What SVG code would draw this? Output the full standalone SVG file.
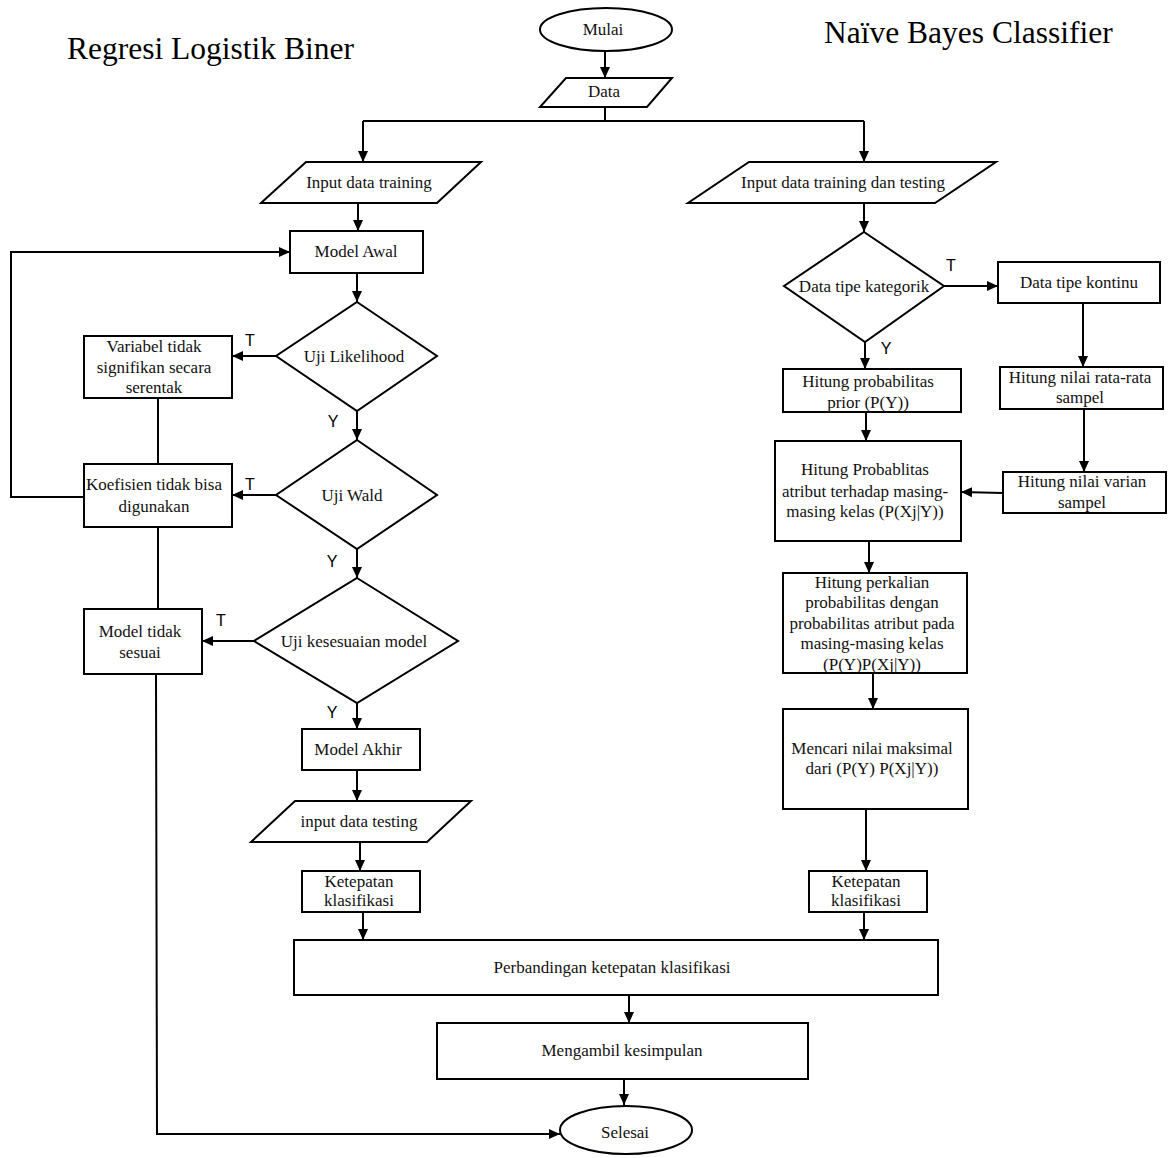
<svg xmlns="http://www.w3.org/2000/svg" width="1169" height="1158" viewBox="0 0 1169 1158">
<style>
.s{fill:#fff;stroke:#000;stroke-width:2}
.t{font-family:"Liberation Serif","Times New Roman",serif;font-size:17px;fill:#111;text-anchor:middle}
.h{font-family:"Liberation Serif","Times New Roman",serif;font-size:31.5px;fill:#000}
.l{font-family:"Liberation Sans",Arial,sans-serif;font-size:16px;fill:#000;text-anchor:middle}
.c{fill:none;stroke:#000;stroke-width:2}
</style>
<defs>
<marker id="ah" markerUnits="userSpaceOnUse" markerWidth="12" markerHeight="10" refX="11" refY="5" orient="auto">
<path d="M0,0 L11,5 L0,10 z" fill="#000"/>
</marker>
</defs>
<rect width="1169" height="1158" fill="#fff"/>
<text class="h" x="67" y="59">Regresi Logistik Biner</text>
<text class="h" x="824" y="43">Naïve Bayes Classifier</text>

<g id="connectors">
<line class="c" x1="605" y1="51" x2="605" y2="78" marker-end="url(#ah)"/>
<polyline class="c" points="605,107 605,121"/>
<polyline class="c" points="363,121 864,121"/>
<line class="c" x1="363" y1="121" x2="363" y2="162" marker-end="url(#ah)"/>
<line class="c" x1="864" y1="121" x2="864" y2="162" marker-end="url(#ah)"/>
<line class="c" x1="358" y1="203" x2="358" y2="231" marker-end="url(#ah)"/>
<line class="c" x1="864" y1="203" x2="864" y2="232" marker-end="url(#ah)"/>
<line class="c" x1="944" y1="286" x2="998" y2="286" marker-end="url(#ah)"/>
<line class="c" x1="865" y1="342" x2="865" y2="369" marker-end="url(#ah)"/>
<line class="c" x1="866" y1="412" x2="866" y2="441" marker-end="url(#ah)"/>
<line class="c" x1="1083" y1="303" x2="1083" y2="367" marker-end="url(#ah)"/>
<line class="c" x1="1084" y1="409" x2="1084" y2="472" marker-end="url(#ah)"/>
<line class="c" x1="1003" y1="493" x2="961" y2="492" marker-end="url(#ah)"/>
<line class="c" x1="869" y1="541" x2="869" y2="573" marker-end="url(#ah)"/>
<line class="c" x1="873" y1="673" x2="873" y2="709" marker-end="url(#ah)"/>
<line class="c" x1="866" y1="809" x2="866" y2="871" marker-end="url(#ah)"/>
<line class="c" x1="864" y1="912" x2="864" y2="940" marker-end="url(#ah)"/>
<line class="c" x1="629" y1="995" x2="629" y2="1023" marker-end="url(#ah)"/>
<line class="c" x1="624" y1="1079" x2="624" y2="1105" marker-end="url(#ah)"/>
<line class="c" x1="357" y1="273" x2="357" y2="302" marker-end="url(#ah)"/>
<line class="c" x1="276" y1="356" x2="232" y2="356" marker-end="url(#ah)"/>
<line class="c" x1="158" y1="398" x2="158" y2="464"/>
<line class="c" x1="357" y1="411" x2="357" y2="440" marker-end="url(#ah)"/>
<line class="c" x1="276" y1="495" x2="232" y2="495" marker-end="url(#ah)"/>
<polyline class="c" points="84,497 11,497 11,252 290,252" marker-end="url(#ah)"/>
<line class="c" x1="158" y1="527" x2="158" y2="609"/>
<line class="c" x1="357" y1="549" x2="357" y2="578" marker-end="url(#ah)"/>
<line class="c" x1="254" y1="641" x2="202" y2="641" marker-end="url(#ah)"/>
<polyline class="c" points="156,674 157,1134 560,1134" marker-end="url(#ah)"/>
<line class="c" x1="357" y1="703" x2="357" y2="729" marker-end="url(#ah)"/>
<line class="c" x1="357" y1="770" x2="357" y2="801" marker-end="url(#ah)"/>
<line class="c" x1="360" y1="842" x2="360" y2="871" marker-end="url(#ah)"/>
<line class="c" x1="363" y1="912" x2="363" y2="940" marker-end="url(#ah)"/>
<text class="l" x="951" y="271">T</text>
<text class="l" x="886" y="354">Y</text>
<text class="l" x="250" y="346">T</text>
<text class="l" x="333" y="427">Y</text>
<text class="l" x="250" y="490">T</text>
<text class="l" x="332" y="567">Y</text>
<text class="l" x="221" y="626">T</text>
<text class="l" x="332" y="718">Y</text>
</g>

<g id="mulai"><ellipse class="s" cx="606" cy="29.5" rx="66" ry="21.5"/><text class="t" x="603" y="35">Mulai</text></g>
<g id="data"><polygon class="s" points="566,78 672,78 647,107 540,107"/><text class="t" x="604" y="97">Data</text></g>
<g id="input-training"><polygon class="s" points="306,162 481,162 437,203 261,203"/><text class="t" x="369" y="188">Input data training</text></g>
<g id="model-awal"><rect class="s" x="290" y="231" width="133" height="42"/><text class="t" x="356" y="257">Model Awal</text></g>
<g id="input-training-testing"><polygon class="s" points="749,162 996,162 935,203 688,203"/><text class="t" x="843" y="188">Input data training dan testing</text></g>
<g id="kategorik"><polygon class="s" points="864,232 944,286 865,342 784,286"/><text class="t" x="864" y="292">Data tipe kategorik</text></g>
<g id="kontinu"><rect class="s" x="998" y="262" width="162" height="41"/><text class="t" x="1079" y="288">Data tipe kontinu</text></g>
<g id="prior"><rect class="s" x="783" y="369" width="178" height="43"/><text class="t" x="868" y="387">Hitung probabilitas</text><text class="t" x="868" y="408">prior (P(Y))</text></g>
<g id="probablitas"><rect class="s" x="775" y="441" width="186" height="100"/><text class="t" x="865" y="475">Hitung Probablitas</text><text class="t" x="865" y="497">atribut terhadap masing-</text><text class="t" x="865" y="517">masing kelas (P(Xj|Y))</text></g>
<g id="rata-rata"><rect class="s" x="1000" y="367" width="163" height="42"/><text class="t" x="1080" y="383">Hitung nilai rata-rata</text><text class="t" x="1080" y="403">sampel</text></g>
<g id="varian"><rect class="s" x="1003" y="472" width="163" height="41"/><text class="t" x="1082" y="487">Hitung nilai varian</text><text class="t" x="1082" y="508">sampel</text></g>
<g id="perkalian"><rect class="s" x="783" y="573" width="184" height="100"/><text class="t" x="872" y="588">Hitung perkalian</text><text class="t" x="872" y="608">probabilitas dengan</text><text class="t" x="872" y="629">probabilitas atribut pada</text><text class="t" x="872" y="649">masing-masing kelas</text><text class="t" x="872" y="670">(P(Y)P(Xj|Y))</text></g>
<g id="mencari"><rect class="s" x="783" y="709" width="185" height="100"/><text class="t" x="872" y="754">Mencari nilai maksimal</text><text class="t" x="872" y="774">dari (P(Y) P(Xj|Y))</text></g>
<g id="ketepatan-nb"><rect class="s" x="809" y="871" width="118" height="41"/><text class="t" x="866" y="887">Ketepatan</text><text class="t" x="866" y="906">klasifikasi</text></g>
<g id="uji-likelihood"><polygon class="s" points="357,302 437,356 357,411 276,356"/><text class="t" x="354" y="362">Uji Likelihood</text></g>
<g id="variabel"><rect class="s" x="84" y="336" width="148" height="62"/><text class="t" x="154" y="352">Variabel tidak</text><text class="t" x="154" y="373">signifikan secara</text><text class="t" x="154" y="393">serentak</text></g>
<g id="uji-wald"><polygon class="s" points="357,440 437,495 357,549 276,495"/><text class="t" x="352" y="501">Uji Wald</text></g>
<g id="koefisien"><rect class="s" x="84" y="464" width="148" height="63"/><text class="t" x="154" y="490">Koefisien tidak bisa</text><text class="t" x="154" y="512">digunakan</text></g>
<g id="uji-kesesuaian"><polygon class="s" points="357,578 458,641 357,703 254,641"/><text class="t" x="354" y="647">Uji kesesuaian model</text></g>
<g id="model-tidak-sesuai"><rect class="s" x="84" y="609" width="118" height="65"/><text class="t" x="140" y="637">Model tidak</text><text class="t" x="140" y="658">sesuai</text></g>
<g id="model-akhir"><rect class="s" x="302" y="729" width="118" height="41"/><text class="t" x="358" y="755">Model Akhir</text></g>
<g id="input-testing"><polygon class="s" points="295,801 471,801 427,842 251,842"/><text class="t" x="359" y="827">input data testing</text></g>
<g id="ketepatan-rlb"><rect class="s" x="302" y="871" width="118" height="41"/><text class="t" x="359" y="887">Ketepatan</text><text class="t" x="359" y="906">klasifikasi</text></g>
<g id="perbandingan"><rect class="s" x="294" y="940" width="644" height="55"/><text class="t" x="612" y="973">Perbandingan ketepatan klasifikasi</text></g>
<g id="mengambil"><rect class="s" x="437" y="1023" width="371" height="56"/><text class="t" x="622" y="1056">Mengambil kesimpulan</text></g>
<g id="selesai"><ellipse class="s" cx="626" cy="1130" rx="66" ry="24"/><text class="t" x="625" y="1138">Selesai</text></g>
</svg>
